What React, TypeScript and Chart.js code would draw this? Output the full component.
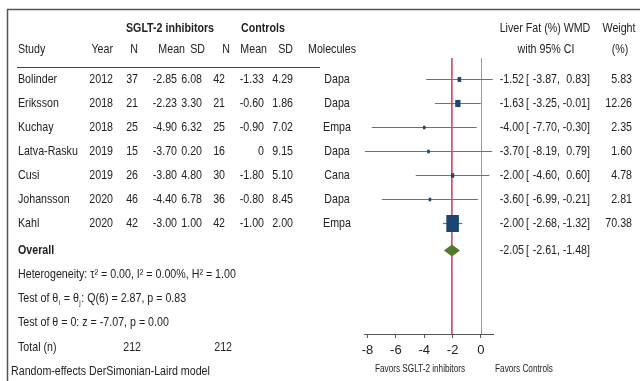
import { useEffect, useRef } from 'react';
import { Chart, registerables } from 'chart.js';
Chart.register(...registerables);

const FONT = '"Liberation Sans Narrow", "Arial Narrow", "Liberation Sans", Arial, sans-serif';
const SX = 0.82;

const studies = ['Bolinder', 'Eriksson', 'Kuchay', 'Latva-Rasku', 'Cusi', 'Johansson', 'Kahl'];
const years = [2012, 2018, 2018, 2019, 2019, 2020, 2020];
const nTreat = [37, 21, 25, 15, 26, 46, 42];
const meanTreat = [-2.85, -2.23, -4.9, -3.7, -3.8, -4.4, -3.0];
const sdTreat = [6.08, 3.3, 6.32, 0.2, 4.8, 6.78, 1.0];
const nCtrl = [42, 21, 25, 16, 30, 36, 42];
const meanCtrl = [-1.33, -0.6, -0.9, 0, -1.8, -0.8, -1.0];
const sdCtrl = [4.29, 1.86, 7.02, 9.15, 5.1, 8.45, 2.0];
const molecules = ['Dapa', 'Dapa', 'Empa', 'Dapa', 'Cana', 'Dapa', 'Empa'];
const wmd = [-1.52, -1.63, -4.0, -3.7, -2.0, -3.6, -2.0];
const ciLow = [-3.87, -3.25, -7.7, -8.19, -4.6, -6.99, -2.68];
const ciHigh = [0.83, -0.01, -0.3, 0.79, 0.6, -0.21, -1.32];
const weights = [5.83, 12.26, 2.35, 1.6, 4.78, 2.81, 70.38];
const overallEst = -2.05;
const overallLow = -2.61;
const overallHigh = -1.48;
const totalTreat = 212;
const totalCtrl = 212;
const xTicks = [-8, -6, -4, -2, 0];

const fmt = (v: number) => (v === 0 ? '0' : v.toFixed(2));

export default function App() {
  const ref = useRef<HTMLCanvasElement>(null);
  useEffect(() => {
    document.body.style.margin = '0';
    const canvas = ref.current!;
    const ctx0 = canvas.getContext('2d')!;

    const forest = {
      id: 'forest',
      beforeDraw(chart: any) {
        const c = chart.ctx;
        c.save();
        c.fillStyle = '#fff';
        c.fillRect(0, 0, chart.width, chart.height);
        c.restore();
      },
      afterDraw(chart: any) {
        const c: CanvasRenderingContext2D = chart.ctx;
        const xs = chart.scales.x;
        const ys = chart.scales.y;
        const area = chart.chartArea;
        const X = (v: number) => xs.getPixelForValue(v);
        const Y = (v: number) => ys.getPixelForValue(v);
        c.save();
        const t = (s: string, x: number, y: number, align: CanvasTextAlign = 'left', size = 13, bold = false, color = '#222') => {
          c.save();
          c.font = `${bold ? 'bold ' : ''}${size}px ${FONT}`;
          c.textAlign = align;
          c.textBaseline = 'middle';
          c.fillStyle = color;
          c.translate(x, y);
          c.scale(SX, 1);
          c.fillText(s, 0, 0);
          const w = c.measureText(s).width * SX;
          c.restore();
          return w;
        };
        // frame
        c.strokeStyle = '#555';
        c.lineWidth = 1.5;
        c.beginPath();
        c.moveTo(640, 9.5);
        c.lineTo(7.5, 9.5);
        c.lineTo(7.5, 381);
        c.stroke();
        // header rule
        c.lineWidth = 1;
        c.strokeStyle = '#444';
        c.beginPath();
        c.moveTo(17, 67.5);
        c.lineTo(320, 67.5);
        c.stroke();
        // reference lines
        c.strokeStyle = '#9a9a9a';
        c.lineWidth = 1;
        c.beginPath();
        c.moveTo(Math.round(X(0)) + 0.5, area.top);
        c.lineTo(Math.round(X(0)) + 0.5, area.bottom);
        c.stroke();
        c.strokeStyle = '#c43a62';
        c.lineWidth = 1.5;
        c.beginPath();
        c.moveTo(X(overallEst), area.top);
        c.lineTo(X(overallEst), area.bottom);
        c.stroke();
        // CI lines and squares
        studies.forEach((_, i) => {
          const y = Y(i);
          c.strokeStyle = '#56769a';
          c.lineWidth = 1.2;
          c.beginPath();
          c.moveTo(X(ciLow[i]), Math.round(y) + 0.5);
          c.lineTo(X(ciHigh[i]), Math.round(y) + 0.5);
          c.stroke();
          const w = Math.max(2.6, 1.5 * Math.sqrt(weights[i]));
          const h = w * 1.35;
          c.fillStyle = '#1d4572';
          c.fillRect(X(wmd[i]) - w / 2, y - h / 2 + 0.5, w, h);
        });
        // diamond
        const oy = Y(7.15);
        c.fillStyle = '#4f7a29';
        c.beginPath();
        c.moveTo(X(overallLow), oy);
        c.lineTo(X(overallEst), oy - 6);
        c.lineTo(X(overallHigh), oy);
        c.lineTo(X(overallEst), oy + 6);
        c.closePath();
        c.fill();

        // header text
        const h1 = Y(-2.1);
        const h2 = Y(-1.25);
        t('SGLT-2 inhibitors', 170, h1, 'center', 13, true);
        t('Controls', 263, h1, 'center', 13, true);
        t('Study', 18, h2);
        t('Year', 113, h2, 'right');
        t('N', 138, h2, 'right');
        t('Mean', 185, h2, 'right');
        t('SD', 205, h2, 'right');
        t('N', 230, h2, 'right');
        t('Mean', 267, h2, 'right');
        t('SD', 293, h2, 'right');
        t('Molecules', 308, h2);
        t('Liver Fat (%) WMD', 545, h1, 'center');
        t('with 95% CI', 546, h2, 'center');
        t('Weight', 619, h1, 'center');
        t('(%)', 620, h2, 'center');

        const effect = (y: number, e: number, lo: number, hi: number) => {
          t(e.toFixed(2), 524, y, 'right');
          t('[', 526, y);
          t(lo.toFixed(2), 557, y, 'right');
          t(',', 557, y);
          t(hi.toFixed(2), 587, y, 'right');
          t(']', 587, y);
        };

        studies.forEach((s, i) => {
          const y = Y(i);
          t(s, 18, y);
          t(String(years[i]), 113, y, 'right');
          t(String(nTreat[i]), 138, y, 'right');
          t(fmt(meanTreat[i]), 177, y, 'right');
          t(fmt(sdTreat[i]), 202, y, 'right');
          t(String(nCtrl[i]), 225, y, 'right');
          t(fmt(meanCtrl[i]), 264, y, 'right');
          t(fmt(sdCtrl[i]), 293, y, 'right');
          t(molecules[i], 337, y, 'center');
          effect(y, wmd[i], ciLow[i], ciHigh[i]);
          t(weights[i].toFixed(2), 632, y, 'right');
        });

        t('Overall', 18, oy, 'left', 13, true);
        effect(oy, overallEst, overallLow, overallHigh);

        t('Heterogeneity: \u03c4\u00b2 = 0.00, I\u00b2 = 0.00%, H\u00b2 = 1.00', 18, Y(8.15));
        // Test of θi = θj
        const ty = Y(9.15);
        let x = 18;
        x += t('Test of \u03b8', x, ty);
        x += t('i', x + 0.5, ty + 4, 'left', 8) + 1;
        x += t(' = \u03b8', x, ty);
        x += t('j', x + 0.5, ty + 4, 'left', 8) + 1;
        t(': Q(6) = 2.87, p = 0.83', x, ty);
        t('Test of \u03b8 = 0: z = -7.07, p = 0.00', 18, Y(10.15));
        const toty = Y(11.2);
        t('Total (n)', 18, toty);
        t(String(totalTreat), 141, toty, 'right');
        t(String(totalCtrl), 232, toty, 'right');
        t('Random-effects DerSimonian-Laird model', 11, Y(12.2));

        t('Favors SGLT-2 inhibitors', 420, 369, 'center', 10);
        t('Favors Controls', 524, 369, 'center', 10);
        c.restore();
      },
    };

    const chart = new Chart(ctx0, {
      type: 'scatter',
      data: {
        datasets: [
          {
            data: studies.map((_, i) => ({ x: wmd[i], y: i })),
            pointRadius: 0,
            showLine: false,
          },
        ],
      },
      options: {
        animation: false,
        responsive: false,
        maintainAspectRatio: false,
        layout: { padding: { left: 364, right: 147, top: 58, bottom: 0 } },
        plugins: { legend: { display: false }, tooltip: { enabled: false } },
        scales: {
          x: {
            type: 'linear',
            min: -8.25,
            max: 0.85,
            afterBuildTicks: (s: any) => {
              s.ticks = xTicks.map((v) => ({ value: v }));
            },
            afterFit: (s: any) => {
              s.height = 47;
            },
            grid: { drawOnChartArea: false, drawTicks: true, tickLength: 4, color: '#555' },
            border: { color: '#555', width: 1 },
            ticks: { font: { family: FONT, size: 13 }, color: '#222', padding: 5, maxRotation: 0, autoSkip: false },
          },
          y: { type: 'linear', display: false, min: -0.875, max: 10.625, reverse: true },
        },
      },
      plugins: [forest],
    } as any);
    return () => chart.destroy();
  }, []);
  return (
    <div style={{ position: 'fixed', left: 0, top: 0, width: 640, height: 381, background: '#fff' }}>
      <canvas ref={ref} width={640} height={381} style={{ display: 'block', width: 640, height: 381 }} />
    </div>
  );
}
